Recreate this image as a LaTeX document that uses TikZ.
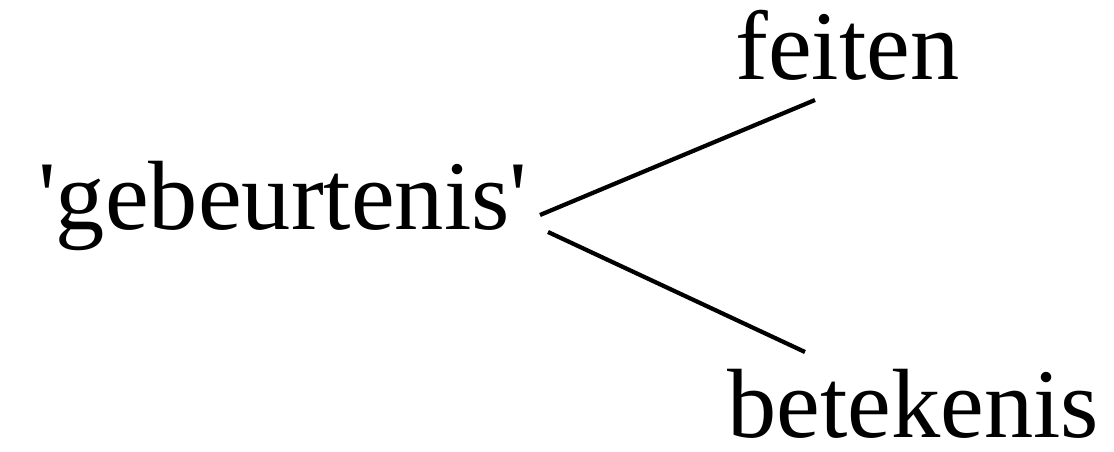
\documentclass[tikz,border=0pt]{standalone}
\usepackage{fontspec}
\setmainfont{Liberation Serif}
\usetikzlibrary{positioning}
\tikzset{word/.style={inner sep=0pt,anchor=base west,font=\fontsize{70}{80}\selectfont},
  branch/.style={line width=3pt,black}}
\begin{document}
\begin{tikzpicture}[x=0.025cm,y=-0.025cm]
  % frame
  \useasboundingbox (0,0) rectangle (1114,452);
  % words
  \node[word] (geb) at (38,230) {\textquotesingle gebeurtenis\textquotesingle};
  \node[word] (feiten) at (735,80) {feiten};
  \node[word] (betek) at (727,438) {betekenis};
  % branch ends
  \coordinate (upfrom) at (540,215);
  \coordinate (upto) at (815,100);
  \coordinate (downfrom) at (548,232);
  \coordinate (downto) at (805,352);
  \draw[branch] (upfrom) -- (upto);
  \draw[branch] (downfrom) -- (downto);
\end{tikzpicture}
\end{document}
